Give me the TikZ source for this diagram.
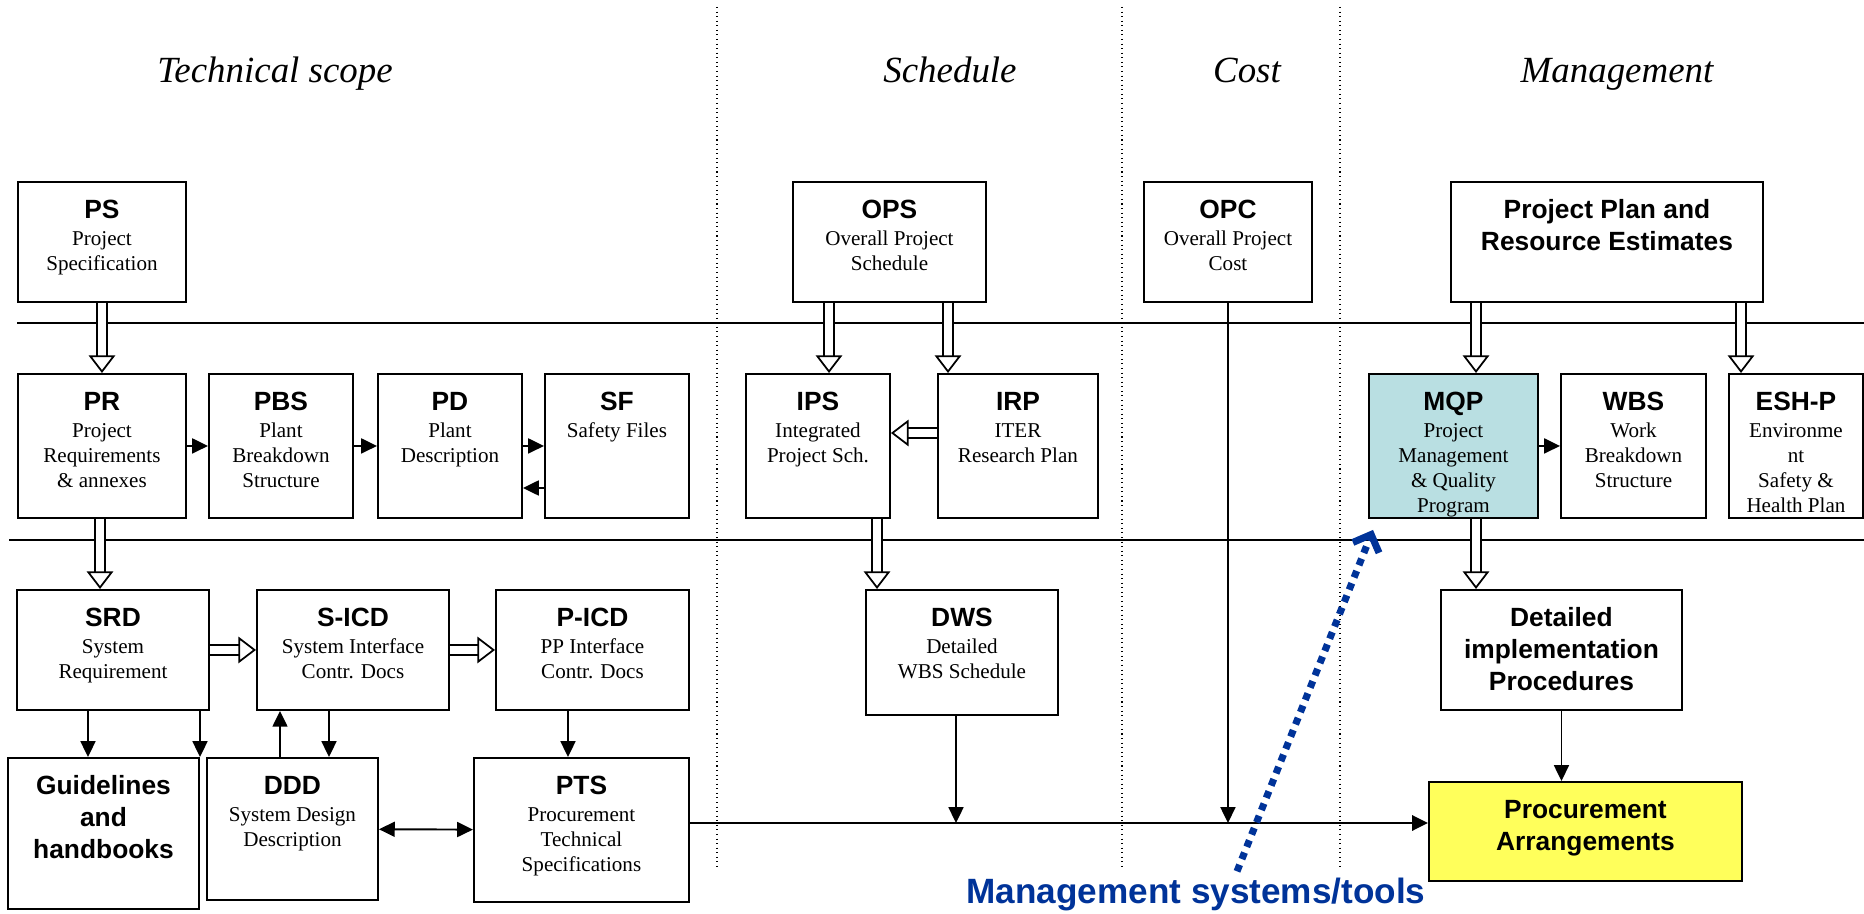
\documentclass[tikz,border=0pt]{standalone}
\usepackage{fontspec}
\setmainfont{Liberation Serif}
\setsansfont{Liberation Sans}
\usepackage{xcolor}
\usepackage{tikz}
\usetikzlibrary{arrows.meta, positioning}

\definecolor{mqpfill}{HTML}{B9DFE2}
\definecolor{pafill}{HTML}{FFFF5B}
\definecolor{msblue}{HTML}{003399}

\newlength{\pxu}
\setlength{\pxu}{0.2mm}
% box with bold sans label and serif description, text from the top
\newcommand{\doc}[4]{\parbox[c][#2\pxu][t]{#1\pxu}{\centering\fontsize{12}{14.2}\selectfont
  \rule{0pt}{20.8pt}{\sffamily\bfseries\fontsize{15}{18}\selectfont #3}\\[1.2pt]#4\par}}
% box with bold sans text only
\newcommand{\bdoc}[3]{\parbox[c][#2\pxu][t]{#1\pxu}{\centering\sffamily\bfseries
  \fontsize{15}{18.2}\selectfont\rule{0pt}{20.8pt}#3\par}}

\begin{document}
\begin{tikzpicture}[x=0.2mm, y=-0.2mm,
    box/.style={draw, line width=1.1pt, inner sep=0pt, anchor=north west},
    title/.style={font=\itshape\fontsize{21}{25}\selectfont, anchor=base},
    flow/.style={line width=1.1pt, -{Triangle[length=9pt, width=8.5pt]}},
    hollow/.style={double=white, double distance=4.8pt, line width=1pt,
        -{Triangle[open, fill=white, line width=1pt, length=10pt, width=15pt]}},
    sep/.style={dotted, line width=0.6pt},
    band/.style={line width=1pt},
    toolarrow/.style={msblue, line width=4pt, dash pattern=on 4pt off 3.5pt,
        -{Straight Barb[length=8pt, width=16pt]}}]

                \useasboundingbox (0,0) rectangle (1864,914);

                % column titles
                \node[title] (tscope) at (275,83) {Technical scope};
                \node[title] (tsched) at (950,83) {Schedule};
                \node[title] (tcost) at (1247,83) {Cost};
                \node[title] (tmgmt) at (1617,83) {Management};

                % separators
                \draw[sep] (717,7) -- (717,870);
                \draw[sep] (1122,7) -- (1122,870);
                \draw[sep] (1340,7) -- (1340,870);
                \draw[band] (17,323) -- (1864,323);
                \draw[band] (9,540) -- (1864,540);

                % top row
                \node[box] (ps) at (17,181) {\doc{168}{120}{PS}{Project\\Specification}};
                \node[box] (ops) at (792,181) {\doc{193}{120}{OPS}{Overall Project\\Schedule}};
                \node[box] (opc) at (1143,181) {\doc{168}{120}{OPC}{Overall Project\\Cost}};
                \node[box] (ppre) at (1450,181) {\bdoc{312}{120}{Project Plan and\\Resource Estimates}};

                % second row
                \node[box] (pr) at (17,373) {\doc{168}{144}{PR}{Project\\Requirements\\\& annexes}};
                \node[box] (pbs) at (208,373) {\doc{144}{144}{PBS}{Plant\\Breakdown\\Structure}};
                \node[box] (pd) at (377,373) {\doc{144}{144}{PD}{Plant\\Description}};
                \node[box] (sf) at (544,373) {\doc{144}{144}{SF}{Safety Files}};
                \node[box] (ips) at (745,373) {\doc{144}{144}{IPS}{Integrated\\Project Sch.}};
                \node[box] (irp) at (937,373) {\doc{160}{144}{IRP}{ITER\\Research Plan}};
                \node[box, fill=mqpfill] (mqp) at (1368,373) {\doc{169}{144}{MQP}{Project\\Management\\\& Quality\\Program}};
                \node[box] (wbs) at (1560,373) {\doc{145}{144}{WBS}{Work\\Breakdown\\Structure}};
                \node[box] (esh) at (1728,373) {\doc{134}{144}{ESH-P}{Environme\\nt\\Safety \&\\Health Plan}};

                % third row
                \node[box] (srd) at (16,589) {\doc{192}{120}{SRD}{System\\Requirement}};
                \node[box] (sicd) at (256,589) {\doc{192}{120}{S-ICD}{System Interface\\Contr. Docs}};
                \node[box] (picd) at (495,589) {\doc{193}{120}{P-ICD}{PP Interface\\Contr. Docs}};
                \node[box] (dws) at (865,589) {\doc{192}{125}{DWS}{Detailed\\WBS Schedule}};
                \node[box] (dip) at (1440,589) {\bdoc{241}{120}{Detailed\\implementation\\Procedures}};

                % bottom row
                \node[box] (guide) at (7,757) {\bdoc{191}{151}{Guidelines\\and\\handbooks}};
                \node[box] (ddd) at (206,757) {\doc{171}{142}{DDD}{System Design\\Description}};
                \node[box] (pts) at (473,757) {\doc{215}{144}{PTS}{Procurement\\Technical\\Specifications}};
                \node[box, fill=pafill] (pa) at (1428,781) {\bdoc{313}{99}{Procurement\\Arrangements}};

                % hollow arrows
                \draw[hollow] (ps) -- (pr);
                \draw[hollow] (pr.south -| 100,0) -- (srd.north -| 100,0);
                \draw[hollow] (srd) -- (sicd);
                \draw[hollow] (sicd) -- (picd);
                \draw[hollow] (ops.south -| 829,0) -- (ips.north -| 829,0);
                \draw[hollow] (ops.south -| 948,0) -- (irp.north -| 948,0);
                \draw[hollow] (irp.west |- 0,433) -- (ips.east |- 0,433);
                \draw[hollow] (ips.south -| 877,0) -- (dws.north -| 877,0);
                \draw[hollow] (ppre.south -| 1476,0) -- (mqp.north -| 1476,0);
                \draw[hollow] (ppre.south -| 1741,0) -- (esh.north -| 1741,0);
                \draw[hollow] (mqp.south -| 1476,0) -- (dip.north -| 1476,0);

                % solid arrows
                \draw[flow] (pr) -- (pbs);
                \draw[flow] (pbs) -- (pd);
                \draw[flow] (pd) -- (sf);
                \draw[flow] (sf.west |- 0,488) -- (pd.east |- 0,488);
                \draw[flow] (mqp) -- (wbs);
                \draw[flow] (srd.south -| 88,0) -- (guide.north -| 88,0);
                \draw[flow] (srd.south -| 200,0) -- (guide.north -| 200,0);
                \draw[flow] (ddd.north -| 280,0) -- (sicd.south -| 280,0);
                \draw[flow] (sicd.south -| 329,0) -- (ddd.north -| 329,0);
                \draw[flow] (picd.south -| 568,0) -- (pts.north -| 568,0);
                \draw[flow, {Triangle[length=9pt, width=8.5pt]}-{Triangle[length=9pt, width=8.5pt]}] (ddd) -- (pts);
                \draw[flow] (dip) -- (dip |- pa.north);

                \coordinate (pin) at (1428,823);
                \draw[flow, line width=1.7pt] (pts.east |- pin) -- (pin);
                \draw[flow] (dws.south -| 956,0) -- (pin -| 956,0);
                \draw[flow] (opc) -- (opc |- pin);

                % management systems
                \node[font=\sffamily\bfseries\fontsize{20}{24}\selectfont, text=msblue, anchor=base] (mst) at (1196,903) {Management systems/tools};
                \draw[toolarrow] (mst.north -| 1237,0) -- ([shift={(5,11)}]mqp.south west);
            \end{tikzpicture}
\end{document}
